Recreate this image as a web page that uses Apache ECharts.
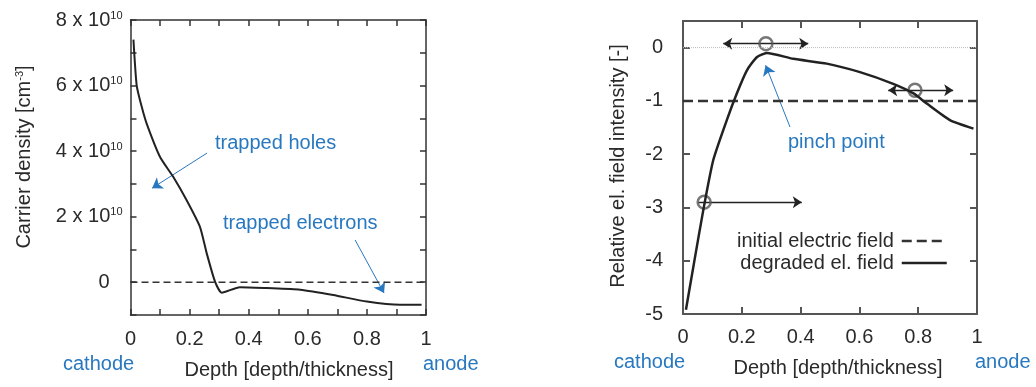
<!DOCTYPE html>
<html>
<head>
<meta charset="utf-8">
<script src="https://cdn.jsdelivr.net/npm/echarts@6/dist/echarts.min.js"></script>
<style>
html,body{margin:0;padding:0;background:#fff;}
#c{width:1036px;height:387px;}
</style>
</head>
<body>
<div id="c"></div>
<script>
// ---- Left panel: carrier density vs depth ----
const depthA = [0.01, 0.021, 0.038, 0.055, 0.1, 0.145, 0.19, 0.235, 0.258, 0.286, 0.309, 0.37, 0.461, 0.574, 0.686, 0.8, 0.912, 0.985];
const density = [7.4e10, 6.0e10, 5.35e10, 4.83e10, 3.82e10, 3.21e10, 2.5e10, 1.69e10, 0.88e10, 0.02e10, -0.32e10, -0.15e10, -0.18e10, -0.23e10, -0.39e10, -0.59e10, -0.69e10, -0.69e10];
const zeroLineX = [0, 1];
const zeroLineY = [0, 0];

// ---- Right panel: relative electric field vs depth ----
const depthB = [0.01, 0.035, 0.069, 0.103, 0.149, 0.183, 0.217, 0.251, 0.285, 0.375, 0.489, 0.602, 0.715, 0.784, 0.829, 0.908, 0.988];
const degradedField = [-4.92, -4.12, -3.05, -2.11, -1.36, -0.86, -0.43, -0.18, -0.10, -0.21, -0.30, -0.46, -0.68, -0.86, -1.05, -1.36, -1.52];
const initialFieldX = [0, 1];
const initialFieldY = [-1, -1];
const circleX = [0.072, 0.282, 0.789];
const circleY = [-2.9, 0.075, -0.80];
// drift arrows: [x1, x2, y, double-headed]
const driftArrows = [[0.137, 0.426, 0.075, true], [0.698, 0.919, -0.80, true], [0.052, 0.404, -2.9, false]];
// annotation arrows: [x1, y1, x2, y2]
const holesArrow = [0.259, 3.94e10, 0.073, 2.87e10];
const electronsArrow = [0.760, 1.29e10, 0.858, -0.33e10];
const pinchArrow = [0.364, -1.49, 0.281, -0.33];

const FONT = 'Liberation Sans, Arial, Helvetica, sans-serif';
const BLUE = '#2878c0';
const INK = '#2a2a2a';
const leftColor = '#333', rightColor = '#555';

function boxAxis(gridIndex, pos, opts, color, width, tickLen) {
  return Object.assign({
    type: 'value', gridIndex: gridIndex, position: pos,
    axisLine: {show: true, onZero: false, lineStyle: {color: color, width: width}},
    axisTick: {show: true, inside: true, length: tickLen, lineStyle: {color: color, width: width}},
    splitLine: {show: false},
    axisLabel: {show: false}
  }, opts);
}

function xLabelFmt(v) {
  const n = Math.round(v * 10);
  if (n % 2 !== 0) return '';
  return String(+(n / 10).toFixed(1));
}

function txt(x, y, text, color, align) {
  return {type: 'text', x: x, y: y, z: 10,
    style: {text: text, fill: color, fontSize: 20, fontFamily: FONT, align: align, verticalAlign: 'middle', textAlign: align, textVerticalAlign: 'middle'}};
}

const chart = echarts.init(document.getElementById('c'));

const option = {
  animation: false,
  backgroundColor: '#fff',
  grid: [
    {left: 130.5, right: 610, top: 20, bottom: 72},
    {left: 683, right: 59, top: 21, bottom: 73}
  ],
  xAxis: [
    boxAxis(0, 'bottom', {min: 0, max: 1, interval: 0.1,
      axisLabel: {show: true, margin: 14, fontSize: 20, color: INK, fontFamily: FONT, formatter: xLabelFmt}}, leftColor, 1.5, 6),
    boxAxis(0, 'top', {min: 0, max: 1, interval: 0.1}, leftColor, 1.5, 6),
    boxAxis(1, 'bottom', {min: 0, max: 1, interval: 0.2,
      axisLabel: {show: true, margin: 13, fontSize: 20, color: INK, fontFamily: FONT, formatter: xLabelFmt}}, rightColor, 2, 7),
    boxAxis(1, 'top', {min: 0, max: 1, interval: 0.2}, rightColor, 2, 7)
  ],
  yAxis: [
    boxAxis(0, 'left', {min: -1e10, max: 8e10, interval: 1e10,
      axisLabel: {show: true, margin: 8, color: INK, fontFamily: FONT,
        formatter: function (v) {
          const n = Math.round(v / 1e10);
          if (n % 2 !== 0) return '';
          if (n === 0) return '{z|0}';
          return '{a|' + n + ' x 10}{s|10}';
        },
        rich: {
          a: {fontSize: 20, color: INK, fontFamily: FONT},
          s: {fontSize: 11, color: INK, fontFamily: FONT, verticalAlign: 'top', padding: [0, 0, 6, 0]},
          z: {fontSize: 20, color: INK, fontFamily: FONT, padding: [0, 13, 0, 0]}
        }}}, leftColor, 1.5, 6),
    boxAxis(0, 'right', {min: -1e10, max: 8e10, interval: 1e10}, leftColor, 1.5, 6),
    boxAxis(1, 'left', {min: -5, max: 0.5, interval: 1,
      axisLabel: {show: true, margin: 20, fontSize: 20, color: INK, fontFamily: FONT,
        formatter: function (v) { return Math.abs(v - Math.round(v)) < 1e-6 ? String(Math.round(v)) : ''; }}}, rightColor, 2, 7),
    boxAxis(1, 'right', {min: -5, max: 0.5, interval: 1}, rightColor, 2, 7)
  ],
  legend: {
    orient: 'vertical', align: 'right', right: 83, top: 226,
    itemWidth: 45, itemHeight: 12, itemGap: 2,
    textStyle: {fontSize: 20, color: INK, fontFamily: FONT, padding: [0, 3, 0, 0]},
    itemStyle: {opacity: 0},
    lineStyle: {width: 2.5},
    data: ['initial electric field', 'degraded el. field']
  },
  series: [
    {
      type: 'line', xAxisIndex: 0, yAxisIndex: 0, showSymbol: false, symbol: 'none',
      data: zeroLineX.map((x, i) => [x, zeroLineY[i]]),
      lineStyle: {color: '#333', width: 1.5, type: [7, 4]}
    },
    {
      type: 'line', xAxisIndex: 0, yAxisIndex: 0, showSymbol: false, symbol: 'none', smooth: 0.2,
      data: depthA.map((x, i) => [x, density[i]]),
      lineStyle: {color: '#222', width: 2}
    },
    {
      type: 'lines', coordinateSystem: 'cartesian2d', xAxisIndex: 0, yAxisIndex: 0,
      symbol: ['none', 'arrow'], symbolSize: 10,
      lineStyle: {color: BLUE, width: 1, opacity: 1, curveness: 0},
      data: [
        {coords: [[holesArrow[0], holesArrow[1]], [holesArrow[2], holesArrow[3]]]},
        {coords: [[electronsArrow[0], electronsArrow[1]], [electronsArrow[2], electronsArrow[3]]]}
      ]
    },
    {
      type: 'line', xAxisIndex: 2, yAxisIndex: 2, showSymbol: false, symbol: 'none',
      data: [[0, 0], [1, 0]],
      lineStyle: {color: '#bbb', width: 1, type: 'dotted'}
    },
    {
      name: 'initial electric field',
      type: 'line', xAxisIndex: 2, yAxisIndex: 2, showSymbol: false, symbol: 'none',
      data: initialFieldX.map((x, i) => [x, initialFieldY[i]]),
      itemStyle: {color: '#333'},
      lineStyle: {color: '#333', width: 2.5, type: [10, 5]}
    },
    {
      name: 'degraded el. field',
      type: 'line', xAxisIndex: 2, yAxisIndex: 2, showSymbol: false, symbol: 'none', smooth: 0.2,
      data: depthB.map((x, i) => [x, degradedField[i]]),
      itemStyle: {color: '#222'},
      lineStyle: {color: '#222', width: 2.5}
    },
    {
      type: 'lines', coordinateSystem: 'cartesian2d', xAxisIndex: 2, yAxisIndex: 2,
      symbol: ['arrow', 'arrow'], symbolSize: 9,
      lineStyle: {color: '#222', width: 1.3, opacity: 1, curveness: 0},
      data: driftArrows.filter(a => a[3]).map(a => ({coords: [[a[0], a[2]], [a[1], a[2]]]}))
    },
    {
      type: 'lines', coordinateSystem: 'cartesian2d', xAxisIndex: 2, yAxisIndex: 2,
      symbol: ['none', 'arrow'], symbolSize: 9,
      lineStyle: {color: '#222', width: 1.3, opacity: 1, curveness: 0},
      data: driftArrows.filter(a => !a[3]).map(a => ({coords: [[a[0], a[2]], [a[1], a[2]]]}))
    },
    {
      type: 'scatter', xAxisIndex: 2, yAxisIndex: 2, symbol: 'circle', symbolSize: 13,
      data: circleX.map((x, i) => [x, circleY[i]]),
      itemStyle: {color: 'rgba(255,255,255,0)', borderColor: '#555', borderWidth: 2.5}
    },
    {
      type: 'lines', coordinateSystem: 'cartesian2d', xAxisIndex: 2, yAxisIndex: 2,
      symbol: ['none', 'arrow'], symbolSize: 10,
      lineStyle: {color: BLUE, width: 1, opacity: 1, curveness: 0},
      data: [{coords: [[pinchArrow[0], pinchArrow[1]], [pinchArrow[2], pinchArrow[3]]]}]
    }
  ],
  graphic: [
    txt(215, 143, 'trapped holes', BLUE, 'left'),
    txt(223, 223, 'trapped electrons', BLUE, 'left'),
    txt(63, 364, 'cathode', BLUE, 'left'),
    txt(423, 364, 'anode', BLUE, 'left'),
    txt(289, 370, 'Depth [depth/thickness]', INK, 'center'),
    {type: 'text', x: 24, y: 157, rotation: Math.PI / 2,
      style: {text: '{a|Carrier density [cm}{s|-3}{a|]}', fill: INK, fontSize: 20, fontFamily: FONT, align: 'center', verticalAlign: 'middle', textAlign: 'center', textVerticalAlign: 'middle',
        rich: {a: {fontSize: 20, fill: INK, color: INK, fontFamily: FONT}, s: {fontSize: 11, fill: INK, color: INK, fontFamily: FONT, verticalAlign: 'top', padding: [0, 0, 6, 0]}}}},
    txt(788, 142, 'pinch point', BLUE, 'left'),
    txt(614, 362, 'cathode', BLUE, 'left'),
    txt(975, 362, 'anode', BLUE, 'left'),
    txt(838, 368, 'Depth [depth/thickness]', INK, 'center'),
    {type: 'text', x: 618, y: 166, rotation: Math.PI / 2,
      style: {text: 'Relative el. field intensity [-]', fill: INK, fontSize: 20, fontFamily: FONT, align: 'center', verticalAlign: 'middle', textAlign: 'center', textVerticalAlign: 'middle'}}
  ]
};

chart.setOption(option);
</script>
</body>
</html>
